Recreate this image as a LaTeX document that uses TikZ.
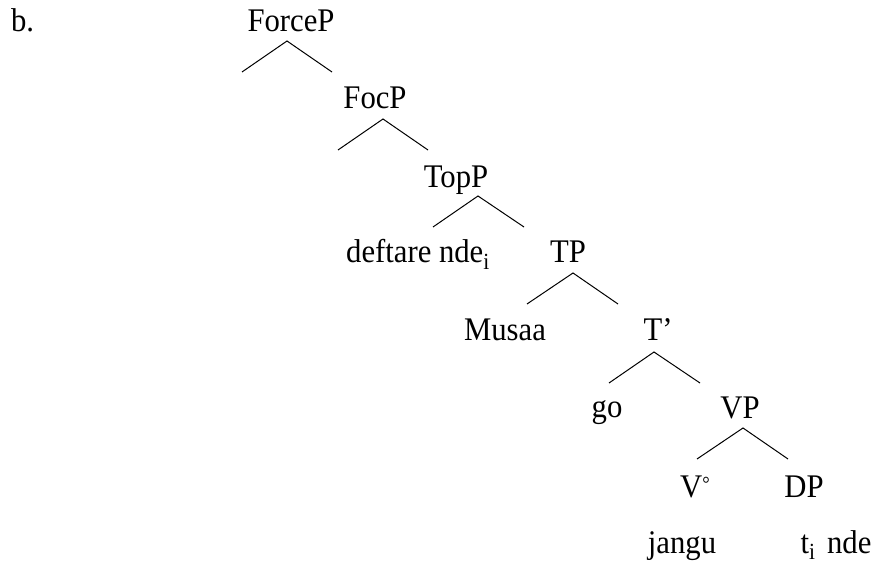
\documentclass[tikz,border=0pt]{standalone}
\usepackage{fontspec}
\setmainfont[FakeStretch=0.93]{Liberation Serif}
\newcommand{\degring}{\raisebox{7pt}{\fontsize{20}{20}\selectfont°}}
\begin{document}
\begin{tikzpicture}[x=1pt,y=-1pt,
  lbl/.style={anchor=base,inner sep=0pt,outer sep=0pt,font=\fontsize{33}{38}\selectfont},
  branch/.style={line width=1pt,black}]
\useasboundingbox (0,0) rectangle (878,569);
% labels
\node[lbl,anchor=base west] (ex) at (11,32) {b.};
\node[lbl] (forcep) at (291,32) {ForceP};
\node[lbl] (focp) at (375,109) {FocP};
\node[lbl] (topp) at (456,188) {TopP};
\node[lbl] (deft) at (418,263) {deftare nde\textsubscript{i}};
\node[lbl] (tp) at (568,263) {TP};
\node[lbl] (musaa) at (505,341) {Musaa};
\node[lbl] (tbar) at (658,341) {T’};
\node[lbl] (go) at (607,417) {go};
\node[lbl] (vp) at (740,418) {VP};
\node[lbl] (v0) at (695,497) {V\degring};
\node[lbl] (dp) at (804,497) {DP};
\node[lbl] (jangu) at (682,553) {jangu};
\node[lbl] (tnde) at (836,553) {t\textsubscript{i}\hspace{0.35em}nde};
% branch coordinates
\coordinate (a1) at (287,41);  \coordinate (l1) at (242,72);  \coordinate (r1) at (332,72);
\coordinate (a2) at (383,119); \coordinate (l2) at (338,150); \coordinate (r2) at (428,150);
\coordinate (a3) at (478,196); \coordinate (l3) at (433,227); \coordinate (r3) at (524,227);
\coordinate (a4) at (573,273); \coordinate (l4) at (527,304); \coordinate (r4) at (618,304);
\coordinate (a5) at (654,352); \coordinate (l5) at (609,383); \coordinate (r5) at (700,383);
\coordinate (a6) at (743,428); \coordinate (l6) at (697,459); \coordinate (r6) at (788,459);
\draw[branch] (l1) -- (a1) -- (r1);
\draw[branch] (l2) -- (a2) -- (r2);
\draw[branch] (l3) -- (a3) -- (r3);
\draw[branch] (l4) -- (a4) -- (r4);
\draw[branch] (l5) -- (a5) -- (r5);
\draw[branch] (l6) -- (a6) -- (r6);
\end{tikzpicture}
\end{document}
